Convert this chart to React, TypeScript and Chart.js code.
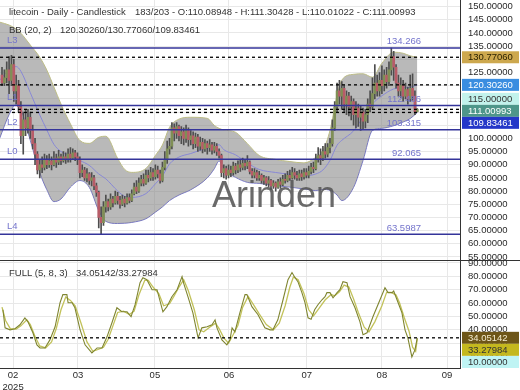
import React, { useEffect, useRef } from 'react';
import { Chart, registerables } from 'chart.js';

Chart.register(...registerables);

const FONT = '"Liberation Sans", Arial, sans-serif';

// ---- candle data (daily) ----
const firstOpen = 124;
const closes = [
  121, 123, 126, 122, 128, 118, 120, 112, 101, 107,
  104, 108, 103, 98, 94, 88, 90, 89, 92, 90,
  91.5, 90, 92.5, 91, 93, 91.5, 93, 92, 94, 92.5,
  94.5, 93, 92, 87, 88, 85, 86.5, 84, 85, 82,
  79.5, 70, 68, 74, 76, 74, 77, 75.5, 78, 76.5,
  75, 77, 75.5, 77.5, 76.5, 79, 81.5, 80, 83, 84.5,
  83, 86, 85, 87, 85.5, 88, 86.5, 84, 89, 92,
  96, 97, 104, 102, 104.5, 101, 102.5, 100, 103, 99.5,
  101, 98, 100.5, 97, 98.5, 96, 98, 96.5, 97.5, 95.5,
  97, 95, 93.5, 87, 88.5, 86, 88, 87, 89.5, 88,
  90, 89, 90.5, 89.5, 91, 87.5, 86, 87, 85, 86,
  84, 85, 83, 84, 82, 83, 81.5, 83.5, 82.5, 84.5,
  84, 86, 85, 87, 86, 85, 86.5, 85.5, 87, 86,
  87.5, 89, 88.5, 92, 93.5, 92.5, 95, 94, 96.5, 98,
  104, 112, 118, 116, 119, 113, 116, 112, 114, 109,
  111.5, 108, 110, 106.5, 109, 113, 112, 117, 121, 118,
  122, 120, 124, 121.5, 126, 131, 127, 121, 118, 120,
  116, 118.5, 115, 119, 116, 110.08948, 111.00993,
];
const highs = [
  127, 126, 129, 131, 131.5, 130, 124, 122, 114, 110,
  111, 111, 110, 105, 100, 95, 92, 93, 94, 93.5,
  94, 93, 95, 94, 95.5, 94, 95, 94.5, 96, 96.5,
  96, 95.5, 94.5, 93, 90, 89, 88.5, 87, 87, 86,
  83, 80, 74, 76, 78.5, 77, 79, 78, 80, 79.5,
  78, 78.5, 78, 79, 79, 80.5, 83, 84, 85, 86,
  86.5, 88, 88, 89, 88.5, 90, 89.5, 88, 91, 95,
  99, 100, 106, 105.5, 106, 105, 104.5, 104, 105, 104,
  103, 102.5, 102, 101.5, 100.5, 100, 99.5, 99, 99.5, 98.5,
  98.5, 98, 96, 94, 90, 89.5, 90, 89.5, 91, 90.5,
  91.5, 92, 92.5, 92, 93.5, 91.5, 88.5, 88.5, 88, 87.5,
  86.5, 86, 85.5, 85.5, 84.5, 84, 83.5, 84.5, 85, 86,
  86.5, 87.5, 88, 89, 88.5, 87.5, 88, 88, 88.5, 88.5,
  89.5, 90.5, 91, 94, 96.5, 96, 97, 98, 98, 100,
  107, 114, 121, 122, 121.5, 120, 118, 117.5, 116, 115,
  114, 113, 112.5, 111.5, 111, 115, 118, 123, 128, 124,
  125, 127.5, 126, 127, 129, 134.266, 133, 128, 124, 123,
  122, 121, 119.5, 124, 124.5, 118, 111.30428,
];
const lows = [
  120, 120, 121, 117, 120, 114, 113, 110, 98, 94,
  101, 102, 100, 96, 90, 86.5, 85, 87, 88, 88.5,
  89, 88, 89.5, 89, 90, 90, 91, 90.5, 91, 91,
  92, 91.5, 90, 85, 85.5, 84, 83.5, 82.5, 82, 80.5,
  78, 66, 63.5987, 67, 72, 72.5, 73, 74, 75, 75,
  73.5, 74.5, 74, 75, 75.5, 76, 78.5, 79, 79.5, 82,
  82, 82.5, 83.5, 84, 84, 84.5, 85, 83, 83.5, 88,
  90.5, 94, 96, 99, 100, 99, 98, 97.5, 98.5, 97,
  97.5, 96, 96.5, 95, 95.5, 94.5, 95, 94, 95, 94,
  94.5, 93.5, 92.5, 85.5, 85, 84.5, 85, 85.5, 86, 86.5,
  87, 87.5, 88, 88, 88.5, 86.5, 85, 85, 84, 84,
  83, 82.5, 82, 81.5, 80.5, 81, 80, 81, 81, 82,
  83, 83.5, 84, 84.5, 84.5, 84, 84, 84, 84.5, 85,
  85, 86.5, 87, 88, 91, 90, 91.5, 92.5, 93, 94.5,
  97, 103, 110, 113, 111, 110, 109, 108.5, 107, 105,
  104, 104.5, 103, 103.5, 104, 106, 110, 111, 115, 116,
  116, 117, 118, 119, 120, 124, 122, 119, 116, 115.5,
  114, 115, 113, 114, 114.5, 109, 110.01022,
];
const barPos = 183;
const barTotal = 203;

// ---- Bollinger band (20, 2), read at candle positions ----
const bbIdx = [-1, 3, 6, 8, 12, 16, 19, 22, 25, 29, 33, 37, 41, 44, 49, 52, 55, 61, 65, 68, 71, 75, 80, 87, 90, 92, 94, 99, 104, 109, 116, 122, 128, 133, 136, 139, 142, 144, 149, 153, 157, 161, 166, 170, 173, 176];
const bbUpper = [144.1, 143.0, 141.5, 139.9, 135.4, 130.8, 125.9, 119.5, 113, 105.5, 99.2, 98.1, 100.4, 100.8, 92.4, 88.2, 87.1, 88.6, 93.5, 97.5, 104.2, 107.3, 108.0, 107.6, 104.9, 103.8, 103.2, 102.3, 98, 93.5, 92.0, 91.2, 90.7, 92.8, 95.4, 103, 116.3, 122.1, 124.3, 124.5, 123.2, 128.5, 132.7, 132.3, 131.3, 130.7706];
const bbLower = [100, 109, 113, 111, 99.2, 87, 80.5, 76, 77, 81.5, 84, 81.4, 72.6, 68.5, 67.7, 67.8, 68.1, 69.5, 72, 74, 76.4, 78.5, 80.5, 85, 88.5, 91.4, 88.2, 85.2, 83.3, 82.9, 82.1, 81.5, 80.8, 80.2, 80.6, 80.3, 78.5, 76.4, 81.4, 91.6, 103, 103.8, 104.8, 106.2, 107.5, 109.83461];
const bbLast = [120.3026, 130.7706, 109.83461];

// ---- Full stochastic (5, 8, 3) ----
const kIdx = [0.4, 1.3, 3.4, 5.5, 7.6, 9.7, 11, 13.1, 14.8, 16.1, 18.2, 20.3, 22.5, 24.6, 25.8, 27.5, 28, 29.7, 30.9, 33.1, 35.2, 38.1, 40.3, 42.4, 44.5, 46.6, 48.7, 50.8, 53, 54.7, 56.4, 58.5, 59.7, 61.4, 63.6, 65.7, 68.2, 69.9, 72, 74.2, 76.3, 76.9, 78.8, 80.9, 83.1, 84.7, 86.9, 89, 90.3, 91.1, 93.2, 95.3, 96.6, 97.5, 98.7, 100.8, 103, 103.8, 105.9, 108.5, 111.4, 113.6, 114.8, 116.9, 119.1, 121.2, 122.9, 124.2, 125.4, 127.1, 128.4, 129.7, 131, 132.5, 133.9, 135.6, 136.9, 137.7, 139, 140.3, 142, 143.2, 144.5, 146.2, 147.5, 149.6, 151.7, 153, 154.7, 157.2, 160.2, 162.3, 163.6, 165.3, 166, 167.4, 169.5, 170.8, 172, 173.7, 175, 176];
const kVal = [55, 41.5, 40, 40.8, 43.8, 49, 46, 37.8, 28.8, 26.5, 26.5, 32.5, 42.3, 60.3, 66.3, 66.3, 60.3, 60.3, 56.5, 40, 28.8, 22.8, 26.5, 26.5, 34.8, 45.3, 56.5, 53.5, 53.5, 49.8, 58.8, 75.3, 79, 77.5, 70, 70, 53.5, 57.3, 64.8, 70, 79.8, 75.3, 64.8, 52.7, 34, 41.5, 42.3, 43.8, 47.5, 41.5, 32.5, 28.8, 32.5, 41.5, 38.5, 52.7, 66.3, 66.3, 57.3, 51.3, 41.5, 40, 40, 47.5, 62.5, 77.5, 82.8, 79, 76, 67.8, 60.3, 49, 48, 55, 58.8, 62.5, 64.8, 67.8, 67.8, 64, 67.8, 70, 76, 75.3, 64.8, 56.5, 46, 36.3, 37.8, 49.8, 62.5, 71.5, 67.8, 67.8, 69, 62.5, 52.7, 40, 34, 19.8, 25, 34.05142];
const dIdx = [0, 1.5, 3.5, 6, 8, 10.5, 12, 14, 16, 18.5, 21, 23, 25, 27, 29, 31, 33.5, 36, 38.5, 41, 43, 45, 47, 49, 51.5, 54, 56, 58, 60.5, 62, 64, 66.5, 68.5, 71, 73, 75, 77, 79, 81.5, 83.5, 85.5, 88, 90.5, 92, 94, 96, 98, 100, 102, 104.3, 106.5, 109, 112, 115, 117.5, 120, 122, 123.5, 125.5, 128, 130, 132, 134.5, 137, 139.5, 141, 143, 145, 147, 149, 151, 153.5, 155.5, 158, 161, 163, 165, 167, 168.5, 170.5, 172.5, 174, 175.3, 176];
const dVal = [57, 47, 41, 40.5, 43, 47.5, 44, 35, 28, 26.5, 31, 41, 55, 64.5, 62, 58, 45, 31, 24, 25.5, 27, 33, 43, 53, 54, 51.5, 54, 66, 77, 77, 72, 67, 58, 59.5, 65.5, 72, 77.5, 69, 55, 40, 38.5, 42, 45, 41, 34, 30, 36.5, 43.5, 57, 65, 59, 52, 44, 40, 45, 58, 72, 79.5, 77.5, 67, 55, 50.5, 56.5, 62.5, 66.5, 65.5, 68.5, 73.5, 72, 63, 53, 42, 38.5, 46, 58, 68, 68, 66, 60, 49, 39, 27, 24, 33.27984];

// ---- axes ----
const monthIdx = [4.7, 32.2, 64.8, 96.2, 129.2, 161, 188.6];
const monthLabels: (string | string[])[] = [['02', '2025'], '03', '05', '06', '07', '08', '09'];
const mainTicks = [55, 60, 65, 70, 75, 80, 85, 90, 95, 100, 105, 110, 115, 120, 125, 130, 135, 140, 145, 150];
const subTicks = [20, 30, 40, 50, 60, 70, 80, 90];

// ---- levels ----
const levelValues = [134.266, 112.486, 103.315, 92.065, 63.5987];
const levelTexts = ['134.266', '112.486', '103.315', '92.065', '63.5987'];
const levelNames = ['L3', 'L1', 'L2', 'L0', 'L4'];
const dashedMain = [130.7706, 120.3026, 111.00993, 109.83461];
const dashedSub = [34.05142];

const mainBoxes = [
  { v: 130.7706, bg: '#cda84e', fg: '#2b2200' },
  { v: 120.3026, bg: '#3a8de0', fg: '#ffffff' },
  { v: 115, bg: '#c2f2ec', fg: '#333333' },
  { v: 111.00993, bg: '#4e968a', fg: '#ffffff' },
  { v: 109.83461, bg: '#2437c8', fg: '#ffffff' },
];
const subBoxes = [
  { v: 34.05142, bg: '#6e5618', fg: '#f4ecd0' },
  { v: 33.27984, bg: '#c4b81e', fg: '#333333' },
  { v: 10, bg: '#bff4f4', fg: '#333333' },
];

const fmt = (v: number) => v.toFixed(5);

export default function App() {
  const ref = useRef<HTMLCanvasElement | null>(null);

  useEffect(() => {
    document.body.style.margin = '0';
    const canvas = ref.current!;
    const n = closes.length;
    const opens = closes.map((c, i) => (i === 0 ? firstOpen : closes[i - 1]));
    const bodyColors = closes.map((c, i) => (c >= opens[i] ? '#7f8f55' : '#b85c68'));
    const bbMid = bbUpper.map((u, k) => (u + bbLower[k]) / 2);

    const font = (s: number) => `${s}px ${FONT}`;

    const overlay = {
      id: 'overlay',
      afterDatasetsDraw(chart: any) {
        const ctx = chart.ctx as CanvasRenderingContext2D;
        const { left, right } = chart.chartArea;
        const y = chart.scales.y;
        const y2 = chart.scales.y2;
        ctx.save();
        levelValues.forEach((v, k) => {
          const py = y.getPixelForValue(v);
          ctx.strokeStyle = '#34349a';
          ctx.lineWidth = 1.5;
          ctx.beginPath();
          ctx.moveTo(left, py);
          ctx.lineTo(right, py);
          ctx.stroke();
          ctx.fillStyle = '#7474cc';
          ctx.font = font(9.5);
          ctx.textBaseline = 'bottom';
          ctx.textAlign = 'right';
          ctx.fillText(levelTexts[k], 421, py - 1.5);
          ctx.textAlign = 'left';
          ctx.fillText(levelNames[k], 7, py - 3);
        });
        ctx.setLineDash([3, 3]);
        ctx.strokeStyle = '#000';
        ctx.lineWidth = 1.3;
        const dash = (scale: any, v: number) => {
          const py = scale.getPixelForValue(v);
          ctx.beginPath();
          ctx.moveTo(left, py);
          ctx.lineTo(right, py);
          ctx.stroke();
        };
        dashedMain.forEach((v) => dash(y, v));
        dashedSub.forEach((v) => dash(y2, v));
        ctx.setLineDash([]);
        ctx.font = font(36);
        ctx.fillStyle = 'rgba(85,85,85,0.88)';
        ctx.textAlign = 'center';
        ctx.textBaseline = 'alphabetic';
        ctx.fillText('Arinden', 274, 207);
        ctx.restore();
      },
      afterDraw(chart: any) {
        const ctx = chart.ctx as CanvasRenderingContext2D;
        const y = chart.scales.y;
        const y2 = chart.scales.y2;
        ctx.save();
        ctx.strokeStyle = '#333';
        ctx.lineWidth = 1;
        ctx.beginPath();
        ctx.moveTo(0, Math.round(y2.top) + 0.5);
        ctx.lineTo(520, Math.round(y2.top) + 0.5);
        ctx.stroke();
        const h = 12;
        const drawBoxes = (scale: any, items: any[], bottom: number) => {
          const placed = items
            .map((b) => ({ ...b, py: scale.getPixelForValue(b.v) }))
            .sort((a, b) => a.py - b.py);
          let prev = -Infinity;
          ctx.font = font(9.5);
          ctx.textAlign = 'left';
          ctx.textBaseline = 'middle';
          for (const b of placed) {
            let cy = Math.max(b.py, prev + h);
            if (cy + h / 2 > bottom) cy = bottom - h / 2;
            prev = cy;
            ctx.fillStyle = b.bg;
            ctx.fillRect(462, cy - h / 2, 57, h);
            ctx.fillStyle = b.fg;
            ctx.fillText(fmt(b.v), 468, cy + 0.5);
          }
        };
        drawBoxes(y, mainBoxes, y.bottom);
        drawBoxes(y2, subBoxes, y2.bottom);
        ctx.fillStyle = '#333';
        ctx.font = font(9.5);
        ctx.textAlign = 'left';
        ctx.textBaseline = 'middle';
        ctx.fillText('litecoin - Daily - Candlestick', 9, 12);
        ctx.fillText(
          `${barPos}/${barTotal} - O:${fmt(opens[n - 1])} - H:${fmt(highs[n - 1])} - L:${fmt(lows[n - 1])} - C:${fmt(closes[n - 1])}`,
          135,
          12
        );
        ctx.fillText('BB (20, 2)', 9, 30);
        ctx.fillText(bbLast.map(fmt).join('/'), 60, 30);
        ctx.fillText('FULL (5, 8, 3)', 9, 273);
        ctx.fillText(`${fmt(kVal[kVal.length - 1])}/${fmt(dVal[dVal.length - 1])}`, 76, 273);
        ctx.restore();
      },
    };

    const yCommon = (ticks: number[]) => ({
      type: 'linear' as const,
      position: 'right' as const,
      stack: 'panels',
      afterBuildTicks: (s: any) => {
        s.ticks = ticks.map((v) => ({ value: v }));
      },
      afterFit: (s: any) => {
        s.width = 60;
        s.paddingTop = 0;
        s.paddingBottom = 0;
      },
      ticks: {
        autoSkip: false,
        padding: 8,
        color: '#2a2a2a',
        font: { family: FONT, size: 9.5 },
        callback: (v: any) => Number(v).toFixed(5),
      },
      grid: { color: '#e8e8e8', drawTicks: false },
      border: { color: '#333', width: 1 },
    });

    const chart = new Chart(canvas, {
      type: 'bar',
      data: {
        datasets: [
          {
            type: 'bar',
            data: closes.map((c, i) => ({ x: i, y: [opens[i], c] })) as any,
            backgroundColor: bodyColors,
            barThickness: 2,
            grouped: false,
            minBarLength: 1,
            yAxisID: 'y',
            order: 1,
          },
          {
            type: 'bar',
            data: lows.map((l, i) => ({ x: i, y: [l, highs[i]] })) as any,
            backgroundColor: '#4e4e4e',
            barThickness: 1,
            grouped: false,
            yAxisID: 'y',
            order: 2,
          },
          {
            type: 'line',
            data: bbIdx.map((x, k) => ({ x, y: bbUpper[k] })) as any,
            borderColor: '#bdbd86',
            borderWidth: 1,
            pointRadius: 0,
            fill: '+1',
            backgroundColor: 'rgba(128,128,128,0.55)',
            cubicInterpolationMode: 'monotone',
            yAxisID: 'y',
            order: 6,
          },
          {
            type: 'line',
            data: bbIdx.map((x, k) => ({ x, y: bbLower[k] })) as any,
            borderColor: '#7878d4',
            borderWidth: 1,
            pointRadius: 0,
            fill: false,
            cubicInterpolationMode: 'monotone',
            yAxisID: 'y',
            order: 6,
          },
          {
            type: 'line',
            data: bbIdx.map((x, k) => ({ x, y: bbMid[k] })) as any,
            borderColor: '#8888d6',
            borderWidth: 1,
            pointRadius: 0,
            fill: false,
            cubicInterpolationMode: 'monotone',
            yAxisID: 'y',
            order: 5,
          },
          {
            type: 'line',
            data: dIdx.map((x, k) => ({ x, y: dVal[k] })) as any,
            borderColor: '#c2c25a',
            borderWidth: 1.3,
            pointRadius: 0,
            fill: false,
            tension: 0,
            yAxisID: 'y2',
            order: 1,
          },
          {
            type: 'line',
            data: kIdx.map((x, k) => ({ x, y: kVal[k] })) as any,
            borderColor: '#7f8530',
            borderWidth: 1.1,
            pointRadius: 0,
            fill: false,
            tension: 0,
            yAxisID: 'y2',
            order: 0,
          },
        ] as any,
      },
      options: {
        responsive: false,
        animation: false,
        events: [],
        layout: { padding: 0, autoPadding: false },
        plugins: { legend: { display: false }, tooltip: { enabled: false }, title: { display: false } },
        scales: {
          x: {
            type: 'linear',
            min: -0.85,
            max: 194.1,
            offset: false,
            afterBuildTicks: (s: any) => {
              s.ticks = monthIdx.map((v) => ({ value: v }));
            },
            afterFit: (s: any) => {
              s.height = 22;
              s.paddingLeft = 0;
              s.paddingRight = 0;
            },
            ticks: {
              autoSkip: false,
              maxRotation: 0,
              padding: 2,
              color: '#2a2a2a',
              font: { family: FONT, size: 9.5 },
              callback: (_v: any, i: number) => monthLabels[i] as any,
            },
            grid: { color: '#e8e8e8', drawTicks: false, offset: false },
            border: { color: '#333', width: 1 },
          },
          y: { ...yCommon(mainTicks), min: 54, max: 152.5, stackWeight: 259.6 },
          y2: { ...yCommon(subTicks), min: 11.5, max: 92.5, stackWeight: 108.4 },
        } as any,
      },
      plugins: [overlay],
    });
    return () => chart.destroy();
  }, []);

  return (
    <div style={{ width: 520, height: 390 }}>
      <canvas ref={ref} width={520} height={390} style={{ display: 'block' }} />
    </div>
  );
}
